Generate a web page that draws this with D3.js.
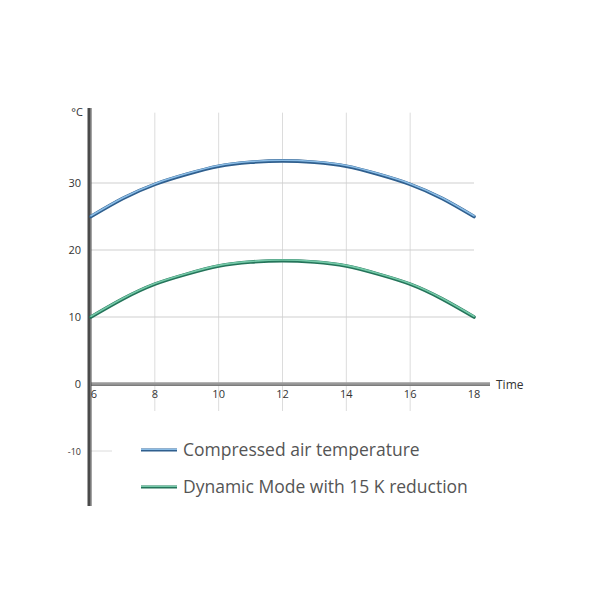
<!DOCTYPE html>
<html>
<head>
<meta charset="utf-8">
<script src="https://cdn.jsdelivr.net/npm/d3@7"></script>
<style>
  body { margin: 0; background: #fff; }
  text { font-family: "Open Sans", "Noto Sans", sans-serif; }
</style>
</head>
<body>
<div id="chart"></div>
<script>
const hours = [6, 7, 8, 9, 10, 11, 12, 13, 14, 15, 16, 17, 18];
const compressedAir = [25, 27.7, 29.8, 31.3, 32.5, 33.1, 33.3, 33.1, 32.5, 31.3, 29.8, 27.7, 25];
const dynamicMode = [10, 12.7, 14.9, 16.4, 17.6, 18.2, 18.4, 18.2, 17.6, 16.4, 14.9, 12.7, 10];
const xTicks = [6, 8, 10, 12, 14, 16, 18];
const xGrid = [8, 10, 12, 14, 16];
const yTicks = [-10, 0, 10, 20, 30];
const yGrid = [10, 20, 30];
const seriesNames = ["Compressed air temperature", "Dynamic Mode with 15 K reduction"];

const width = 600, height = 600;

const x = d3.scaleLinear().domain([6, 18]).range([91, 474]);
const y = d3.scaleLinear().domain([0, 10]).range([384, 317]);

const svg = d3.select("#chart")
    .append("svg")
    .attr("width", width)
    .attr("height", height);

// grid
svg.append("g")
    .selectAll("line")
    .data(xGrid)
    .enter()
    .append("line")
    .attr("x1", d => x(d)).attr("x2", d => x(d))
    .attr("y1", y(40.5)).attr("y2", y(-17))
    .attr("stroke", "#dcdcdc")
    .attr("stroke-width", 1);

svg.append("g")
    .selectAll("line")
    .data(yGrid)
    .enter()
    .append("line")
    .attr("x1", x(6)).attr("x2", x(18))
    .attr("y1", d => y(d)).attr("y2", d => y(d))
    .attr("stroke", "#cfcfcf")
    .attr("stroke-width", 1);

svg.append("line")
    .attr("x1", x(6)).attr("x2", x(18))
    .attr("y1", y(-10)).attr("y2", y(-10))
    .attr("stroke", "#dcdcdc");

// legend box covers lower grid
svg.append("rect")
    .attr("x", 112).attr("y", 404)
    .attr("width", 400).attr("height", 106)
    .attr("fill", "#fff");

// axes
svg.append("line")
    .attr("x1", 88).attr("x2", 490)
    .attr("y1", y(0)).attr("y2", y(0))
    .attr("stroke", "#9a9a9a")
    .attr("stroke-width", 3.5);
svg.append("line")
    .attr("x1", 88).attr("x2", 490)
    .attr("y1", y(0) + 1.3).attr("y2", y(0) + 1.3)
    .attr("stroke", "#6e6e6e")
    .attr("stroke-width", 1);

svg.append("line")
    .attr("x1", 89.5).attr("x2", 89.5)
    .attr("y1", 108).attr("y2", 506)
    .attr("stroke", "#4a4a4a")
    .attr("stroke-width", 4);
svg.append("line")
    .attr("x1", 90.5).attr("x2", 90.5)
    .attr("y1", 108).attr("y2", 506)
    .attr("stroke", "#7a7a7a")
    .attr("stroke-width", 1);

// short tick stubs below the labels
svg.append("g")
    .selectAll("line")
    .data(xGrid)
    .enter()
    .append("line")
    .attr("x1", d => x(d)).attr("x2", d => x(d))
    .attr("y1", 404).attr("y2", 411)
    .attr("stroke", "#dcdcdc");

// tick labels
svg.append("g")
    .selectAll("text")
    .data(yTicks)
    .enter()
    .append("text")
    .attr("x", 81)
    .attr("y", d => y(d) + 4)
    .attr("text-anchor", "end")
    .attr("font-size", d => d < 0 ? 9 : 11)
    .attr("fill", "#333")
    .text(d => d);

svg.append("text")
    .attr("x", 83).attr("y", 116)
    .attr("text-anchor", "end")
    .attr("font-size", 11)
    .attr("fill", "#333")
    .text("°C");

svg.append("g")
    .selectAll("text")
    .data(xTicks)
    .enter()
    .append("text")
    .attr("x", d => d === 6 ? x(d) + 3 : x(d))
    .attr("y", 398)
    .attr("text-anchor", "middle")
    .attr("font-size", 11)
    .attr("fill", "#333")
    .text(d => d);

svg.append("text")
    .attr("x", 496).attr("y", 389)
    .attr("font-size", 12)
    .attr("fill", "#333")
    .text("Time");

// series
const line = d3.line()
    .x((d, i) => x(hours[i]))
    .y(d => y(d))
    .curve(d3.curveNatural);

const styles = [
    { dark: "#2f5f8e", light: "#8bbde6" },
    { dark: "#24745a", light: "#74c9a8" }
];

[compressedAir, dynamicMode].forEach((values, k) => {
    svg.append("path")
        .attr("d", line(values))
        .attr("fill", "none")
        .attr("stroke", styles[k].dark)
        .attr("stroke-width", 3.6)
        .attr("stroke-linecap", "round");
    svg.append("path")
        .attr("d", line(values))
        .attr("transform", "translate(0,-0.7)")
        .attr("fill", "none")
        .attr("stroke", styles[k].light)
        .attr("stroke-width", 1.6)
        .attr("stroke-linecap", "round");
});

// legend
const legend = svg.append("g")
    .selectAll("g")
    .data(seriesNames)
    .enter()
    .append("g")
    .attr("transform", (d, i) => `translate(141,${450 + i * 37})`);

legend.append("line")
    .attr("x1", 0).attr("x2", 36)
    .attr("stroke", (d, i) => styles[i].dark)
    .attr("stroke-width", 3);
legend.append("line")
    .attr("x1", 0).attr("x2", 36)
    .attr("y1", -0.6).attr("y2", -0.6)
    .attr("stroke", (d, i) => styles[i].light)
    .attr("stroke-width", 1.4);

legend.append("text")
    .attr("x", 42)
    .attr("y", 6)
    .attr("font-size", 17.5)
    .attr("fill", "#555")
    .text(d => d);
</script>
</body>
</html>
